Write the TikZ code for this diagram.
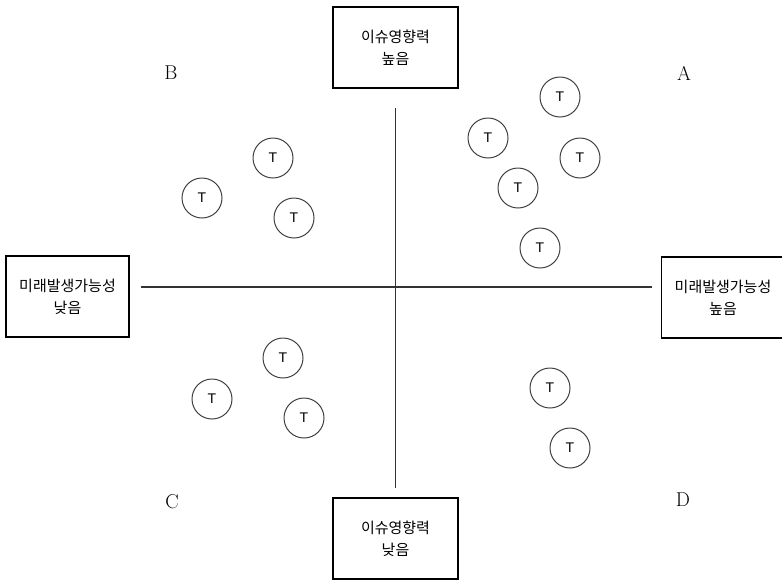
\documentclass[tikz,border=0pt]{standalone}
\usepackage{fontspec}
\newfontfamily\hangulfont{Noto Sans CJK KR}
\newfontfamily\topicfont{Liberation Sans}
\usetikzlibrary{positioning}

\tikzset{
  axisbox/.style={draw, line width=1.2pt, minimum width=123pt, minimum height=81pt,
    inner sep=0pt, align=center, font=\hangulfont\fontsize{15}{22}\selectfont},
  topic/.style={circle, draw=black!75, line width=1pt, minimum size=40pt, inner sep=0pt,
    font=\topicfont\fontsize{14}{14}\selectfont},
  quadlabel/.style={font=\fontsize{20}{20}\selectfont},
  axisline/.style={draw=black!80, line width=1.2pt}
}

\begin{document}
\begin{tikzpicture}[x=1pt,y=-1pt]
    \useasboundingbox (0,0) rectangle (782,579);
    \clip (0,0) rectangle (782,579);

    % Caixas dos eixos
    \node[axisbox, minimum width=125pt] (top) at (395.5,47.5) {이슈영향력\\높음};
    \node[axisbox, minimum width=125pt] (bottom) at (395.5,538.5) {이슈영향력\\낮음};
    \node[axisbox] (left) at (67.5,296.5) {미래발생가능성\\낮음};
    \node[axisbox] (right) at (723,297.5) {미래발생가능성\\높음};

    % Eixos
    \coordinate (o) at (396,287);
    \draw[axisline, shorten <=11pt, shorten >=9pt] (left.east |- o) -- (right.west |- o);
    \draw[axisline, shorten <=19pt, shorten >=9pt] (top.south) -- (bottom.north);

    % Quadrantes
    \node[quadlabel] (qa) at (684,73) {A};
    \node[quadlabel] (qb) at (171,73) {B};
    \node[quadlabel] (qc) at (172,502) {C};
    \node[quadlabel] (qd) at (683,500) {D};

    % Temas
    \foreach \n/\p in {a1/{560,97}, a2/{488,138}, a3/{580,158}, a4/{518,188}, a5/{540,248},
                       b1/{273,158}, b2/{202,198}, b3/{294,218},
                       c1/{283,358}, c2/{212,399}, c3/{304,418},
                       d1/{550,388}, d2/{570,448}}
        \node[topic] (\n) at (\p) {T};
\end{tikzpicture}
\end{document}
